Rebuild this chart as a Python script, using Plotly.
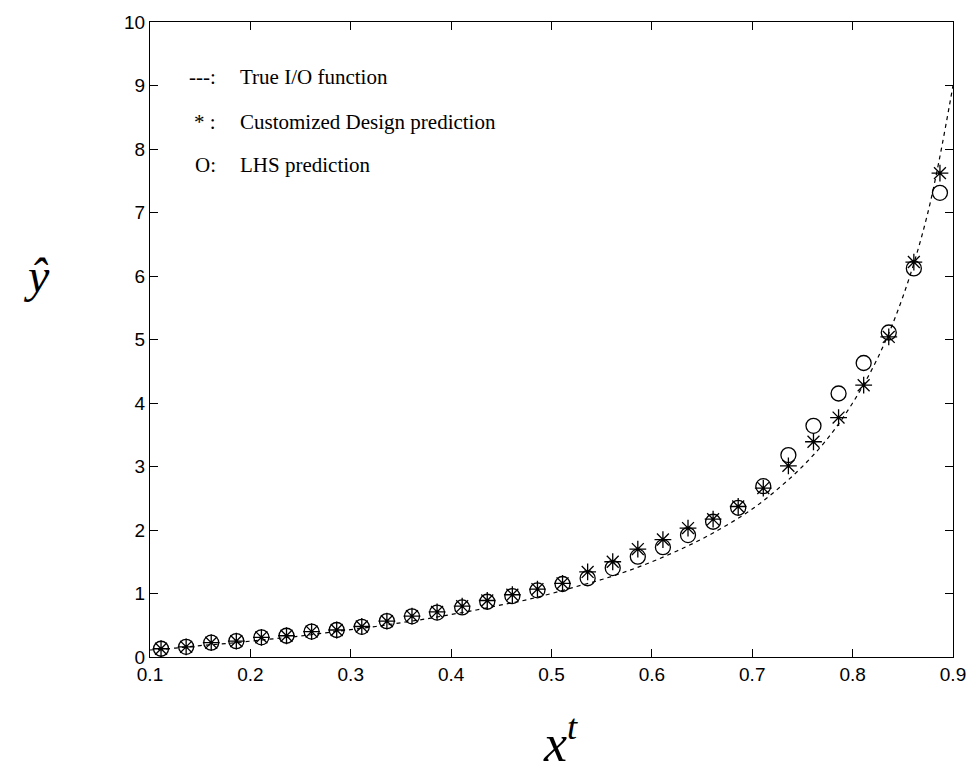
import plotly.graph_objects as go

# Dashed true I/O curve
true_x = [0.100, 0.125, 0.150, 0.175, 0.200, 0.225, 0.250, 0.275, 0.300, 0.325,
          0.350, 0.375, 0.400, 0.425, 0.450, 0.475, 0.500, 0.525, 0.550, 0.575,
          0.600, 0.625, 0.650, 0.675, 0.700, 0.725, 0.750, 0.775, 0.800, 0.825,
          0.850, 0.875, 0.900]
true_y = [0.11, 0.14, 0.18, 0.21, 0.25, 0.29, 0.33, 0.38, 0.43, 0.48,
          0.54, 0.60, 0.67, 0.74, 0.82, 0.90, 1.00, 1.11, 1.22, 1.35,
          1.50, 1.67, 1.86, 2.08, 2.33, 2.64, 3.00, 3.44, 4.00, 4.71,
          5.67, 7.00, 9.00]

# Prediction points
pred_x = [0.111, 0.136, 0.161, 0.186, 0.211, 0.236, 0.261, 0.286, 0.311, 0.336,
          0.361, 0.386, 0.411, 0.436, 0.461, 0.486, 0.511, 0.536, 0.561, 0.586,
          0.611, 0.636, 0.661, 0.686, 0.711, 0.736, 0.761, 0.786, 0.811, 0.836,
          0.861, 0.887]
custom_y = [0.13, 0.16, 0.225, 0.25, 0.31, 0.335, 0.40, 0.425, 0.48, 0.565,
            0.645, 0.71, 0.80, 0.89, 0.98, 1.07, 1.16, 1.34, 1.50, 1.70,
            1.85, 2.03, 2.17, 2.37, 2.66, 3.01, 3.39, 3.77, 4.28, 5.04,
            6.22, 7.62]
lhs_y = [0.13, 0.16, 0.225, 0.25, 0.31, 0.335, 0.40, 0.425, 0.475, 0.565,
         0.64, 0.70, 0.78, 0.87, 0.96, 1.05, 1.15, 1.24, 1.40, 1.58,
         1.73, 1.92, 2.13, 2.35, 2.69, 3.18, 3.64, 4.15, 4.63, 5.11,
         6.12, 7.31]

legend_sym = ["---:", "* :", "O:"]
legend_txt = ["True I/O function", "Customized Design prediction", "LHS prediction"]

fig = go.Figure()
fig.add_trace(go.Scatter(x=true_x, y=true_y, mode="lines", line_shape="spline",
                         line=dict(color="black", width=1.2, dash="4px,4px"),
                         showlegend=False))
fig.add_trace(go.Scatter(x=pred_x, y=lhs_y, mode="markers",
                         marker=dict(symbol="circle-open", size=15, color="black",
                                     line=dict(width=1.3, color="black")),
                         showlegend=False))
fig.add_trace(go.Scatter(x=pred_x, y=custom_y, mode="markers",
                         marker=dict(symbol="asterisk-open", size=14, color="black",
                                     line=dict(width=1.3, color="black")),
                         showlegend=False))

L, R, T, B = 150, 22, 20, 117
W, H = 978, 774
pw, ph = W - L - R, H - T - B

def px_x(p):
    return (p - L) / pw

def px_y(p):
    return 1 - (p - T) / ph

rows_y = [75, 120, 163]
for s, t, yy in zip(legend_sym, legend_txt, rows_y):
    fig.add_annotation(x=px_x(218), y=px_y(yy), xref="paper", yref="paper",
                       text=s, showarrow=False, xanchor="right", yanchor="middle",
                       font=dict(family="Liberation Serif", size=21, color="black"))
    fig.add_annotation(x=px_x(238), y=px_y(yy), xref="paper", yref="paper",
                       text=t, showarrow=False, xanchor="left", yanchor="middle",
                       font=dict(family="Liberation Serif", size=21, color="black"))

# axis titles
fig.add_annotation(x=px_x(562), y=px_y(740), xref="paper", yref="paper",
                   text="<i>x</i><sup><i>t</i></sup>", showarrow=False,
                   xanchor="center", yanchor="middle",
                   font=dict(family="Liberation Serif", size=52, color="black"))
fig.add_annotation(x=px_x(36), y=px_y(274), xref="paper", yref="paper",
                   text="<i>ŷ</i>", showarrow=False,
                   xanchor="center", yanchor="middle",
                   font=dict(family="Liberation Serif", size=48, color="black"))

axis_common = dict(showline=True, linecolor="black", linewidth=1.2, mirror="ticks",
                   ticks="inside", ticklen=8, tickcolor="black", tickwidth=1.2,
                   showgrid=False, zeroline=False,
                   tickfont=dict(family="Liberation Sans", size=19, color="black"))

fig.update_xaxes(range=[0.1, 0.9], dtick=0.1, tick0=0.1, tickformat=".1f", **axis_common)
fig.update_yaxes(range=[0, 10], dtick=1, tick0=0, **axis_common)

fig.update_layout(width=W, height=H, margin=dict(l=L, r=R, t=T, b=B),
                  paper_bgcolor="white", plot_bgcolor="white", showlegend=False)

fig.write_html("out.html")
